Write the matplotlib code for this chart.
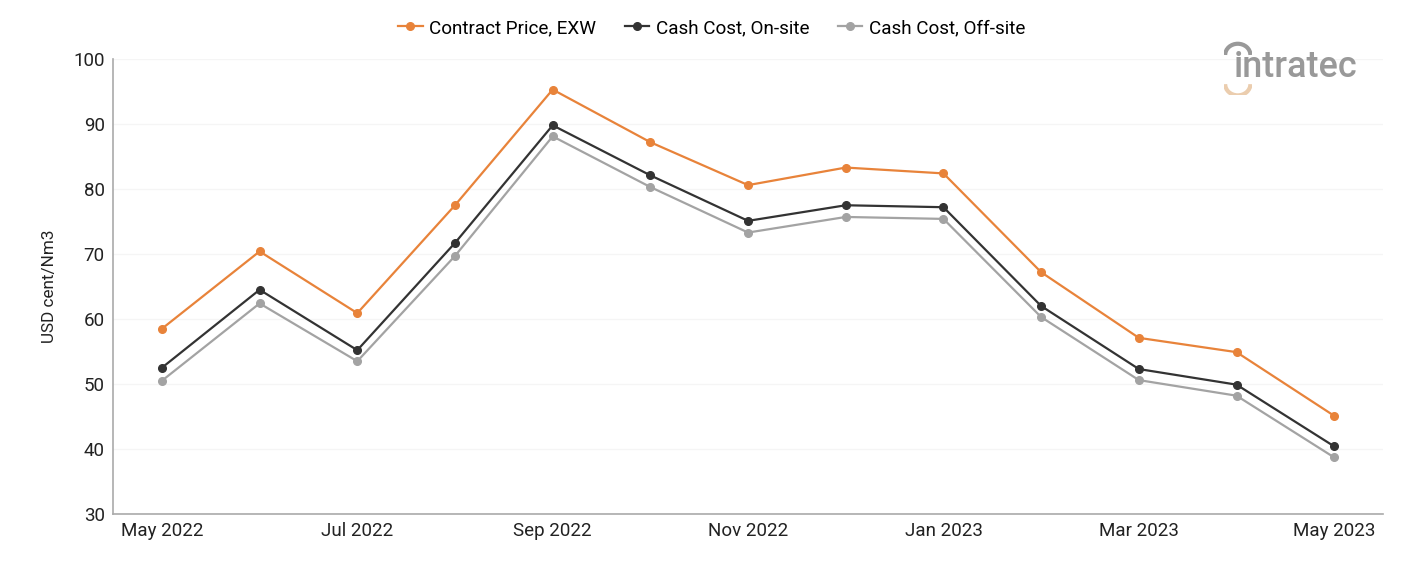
import matplotlib
matplotlib.use("Agg")
import matplotlib.pyplot as plt
from matplotlib.patches import Arc

months = ["May 2022", "Jun 2022", "Jul 2022", "Aug 2022", "Sep 2022", "Oct 2022", "Nov 2022",
          "Dec 2022", "Jan 2023", "Feb 2023", "Mar 2023", "Apr 2023", "May 2023"]
contract_price = [58.5, 70.4, 60.9, 77.5, 95.3, 87.2, 80.6, 83.3, 82.4, 67.2, 57.1, 54.9, 45.1]
cost_onsite = [52.5, 64.5, 55.2, 71.7, 89.8, 82.1, 75.1, 77.5, 77.2, 62.0, 52.3, 49.9, 40.4]
cost_offsite = [50.5, 62.4, 53.5, 69.7, 88.1, 80.3, 73.3, 75.7, 75.4, 60.3, 50.6, 48.2, 38.7]

plt.rcParams["font.family"] = ["Roboto", "DejaVu Sans"]

fig = plt.figure(figsize=(14.01, 5.61), dpi=100)
ax = fig.add_axes([0.0807, 0.0838, 0.9065, 0.811])

x = list(range(len(months)))
series = [
    (contract_price, "Contract Price, EXW", "#E8833A"),
    (cost_onsite, "Cash Cost, On-site", "#333333"),
    (cost_offsite, "Cash Cost, Off-site", "#A3A3A3"),
]
for vals, label, color in series:
    ax.plot(x, vals, color=color, lw=1.6, marker="o", ms=5.5, label=label, zorder=3)

ax.set_xlim(-0.5, len(months) - 0.5)
ax.set_ylim(30, 100)
ax.set_yticks(range(30, 101, 10))
ax.set_xticks(x[::2])
ax.set_xticklabels(months[::2])
ax.tick_params(axis="both", length=0, labelsize=13.5, colors="#222222")
ax.tick_params(axis="x", pad=6)
ax.tick_params(axis="y", pad=6)
ax.set_ylabel("USD cent/Nm3", fontsize=12.3, color="#222222", labelpad=12)

ax.grid(axis="y", color="#F5F5F5", lw=1)
ax.set_axisbelow(True)
for s in ["top", "right"]:
    ax.spines[s].set_visible(False)
for s in ["left", "bottom"]:
    ax.spines[s].set_color("#AAAAAA")
    ax.spines[s].set_linewidth(1.2)

fig.legend(loc="center", bbox_to_anchor=(0.508, 0.95), ncol=3, frameon=False,
           fontsize=13.6, handlelength=1.3, columnspacing=1.5, handletextpad=0.35)

# logo
fig.text(0.8805, 0.88, "intratec", fontsize=26, color="#999999", fontweight="medium",
         ha="left", va="center")
arc_ax = fig.add_axes([0.8735, 0.83, 0.02, 0.1])
arc_ax.set_xlim(0, 1)
arc_ax.set_ylim(0, 1)
arc_ax.axis("off")
arc_ax.add_patch(Arc((0.5, 0.72), 0.9, 0.4, theta1=0, theta2=180, color="#999999", lw=3))
arc_ax.add_patch(Arc((0.5, 0.2), 0.9, 0.4, theta1=180, theta2=360, color="#EBCDAE", lw=3))

fig.savefig("out.png", dpi=100)
